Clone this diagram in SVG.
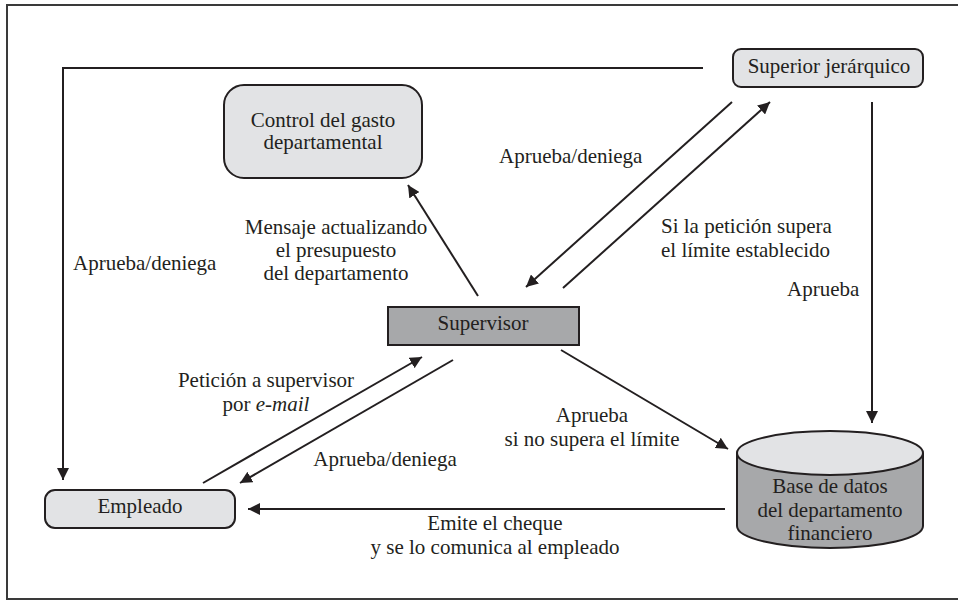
<svg xmlns="http://www.w3.org/2000/svg" width="958" height="600" viewBox="0 0 958 600">
  <defs>
    <marker id="arrow" viewBox="0 0 12 12" refX="12" refY="6" markerWidth="12" markerHeight="12" markerUnits="userSpaceOnUse" orient="auto">
      <path d="M0,0 L12,6 L0,12 Z" fill="#231f20"/>
    </marker>
    <style>
      text { font-family: 'Liberation Serif', 'Times New Roman', Times, serif; font-size: 21px; fill: #231f20; }
      .mid { text-anchor: middle; }
      .box-light { fill: #e2e3e5; stroke: #231f20; stroke-width: 2; }
      .box-dark { fill: #a7a8aa; stroke: #231f20; stroke-width: 2; }
      .edge { fill: none; stroke: #231f20; stroke-width: 2; }
      .arrow { marker-end: url(#arrow); }
    </style>
  </defs>

  <rect width="958" height="600" fill="#ffffff"/>
  <!-- outer frame (right side runs off the page) -->
  <path d="M970,5 L7,5 L7,599 L970,599" fill="none" stroke="#3a3a3a" stroke-width="2"/>

  <!-- connectors -->
  <g id="connectors">
    <polyline class="edge arrow" points="703,68 63,68 63,480"/>
    <line class="edge arrow" x1="872" y1="102" x2="872" y2="423"/>
    <line class="edge arrow" x1="563" y1="288" x2="770" y2="102"/>
    <line class="edge arrow" x1="732" y1="102" x2="526" y2="287"/>
    <line class="edge arrow" x1="478" y1="296" x2="408" y2="185"/>
    <line class="edge arrow" x1="203" y1="483" x2="422" y2="357"/>
    <line class="edge arrow" x1="453" y1="360" x2="240" y2="483"/>
    <line class="edge arrow" x1="561" y1="350" x2="728" y2="449"/>
    <line class="edge arrow" x1="725" y1="509" x2="248" y2="509"/>
  </g>

  <!-- connector labels -->
  <g id="labels">
    <text x="73" y="270">Aprueba/deniega</text>
    <text class="mid" x="336"><tspan x="336" y="234">Mensaje actualizando</tspan><tspan x="336" y="257">el presupuesto</tspan><tspan x="336" y="280">del departamento</tspan></text>
    <text x="499" y="163">Aprueba/deniega</text>
    <text x="661"><tspan x="661" y="233">Si la petición supera</tspan><tspan x="661" y="257">el límite establecido</tspan></text>
    <text x="787" y="296">Aprueba</text>
    <text class="mid" x="266"><tspan x="266" y="387">Petición a supervisor</tspan><tspan x="266" y="411">por <tspan font-style="italic">e-mail</tspan></tspan></text>
    <text class="mid" x="385" y="466">Aprueba/deniega</text>
    <text class="mid" x="592"><tspan x="592" y="422">Aprueba</tspan><tspan x="592" y="446">si no supera el límite</tspan></text>
    <text class="mid" x="495"><tspan x="495" y="530">Emite el cheque</tspan><tspan x="495" y="554">y se lo comunica al empleado</tspan></text>
  </g>

  <g id="control-gasto">
    <rect class="box-light" x="224" y="85" width="198" height="93" rx="20"/>
    <text class="mid" x="323"><tspan x="323" y="127">Control del gasto</tspan><tspan x="323" y="149">departamental</tspan></text>
  </g>

  <g id="superior">
    <rect class="box-light" x="733" y="49" width="190" height="38" rx="8"/>
    <text class="mid" x="829" y="73">Superior jerárquico</text>
  </g>

  <g id="supervisor">
    <rect class="box-dark" x="388" y="307" width="191" height="38"/>
    <text class="mid" x="483" y="330">Supervisor</text>
  </g>

  <g id="empleado">
    <rect class="box-light" x="45" y="490" width="190" height="38" rx="10"/>
    <text class="mid" x="140" y="513">Empleado</text>
  </g>

  <g id="base-datos">
    <path d="M737,453 L737,526 A93,22 0 0 0 923,526 L923,453" fill="#a7a8aa" stroke="#231f20" stroke-width="2"/>
    <ellipse cx="830" cy="453" rx="93" ry="22" fill="#e2e3e5" stroke="#231f20" stroke-width="2"/>
    <text class="mid" x="830"><tspan x="830" y="493">Base de datos</tspan><tspan x="830" y="517">del departamento</tspan><tspan x="830" y="540">financiero</tspan></text>
  </g>
</svg>
